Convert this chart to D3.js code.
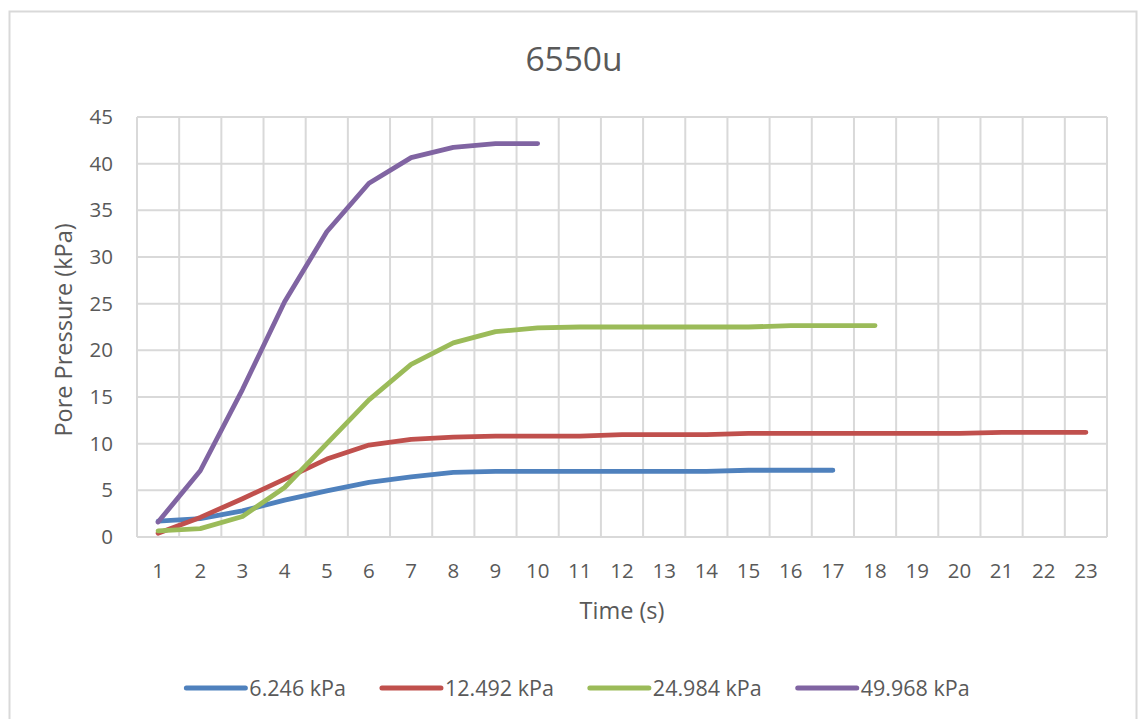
<!DOCTYPE html>
<html>
<head>
<meta charset="utf-8">
<script src="https://cdn.jsdelivr.net/npm/d3@7"></script>
<style>
  html, body { margin: 0; padding: 0; background: #fff; }
  svg { display: block; }
  text { font-family: "Open Sans", Lato, sans-serif; fill: #595959; }
</style>
</head>
<body>
<svg id="chart" width="1139" height="719"></svg>
<script>
// Time steps (s) shown on the category axis
const timeSteps = d3.range(1, 24);
const yTicks = [0, 5, 10, 15, 20, 25, 30, 35, 40, 45];

// Pore pressure (kPa) per loading level, one value per second
const p6246 = [1.7, 1.96, 2.8, 3.95, 4.95, 5.86, 6.45, 6.92, 7.03, 7.03, 7.03, 7.03, 7.03, 7.03, 7.15, 7.15, 7.15];
const p12492 = [0.4, 2.1, 4.1, 6.2, 8.35, 9.85, 10.45, 10.7, 10.8, 10.8, 10.8, 10.97, 10.97, 10.97, 11.1, 11.1, 11.1, 11.1, 11.1, 11.1, 11.22, 11.22, 11.22];
const p24984 = [0.65, 0.9, 2.2, 5.3, 10.0, 14.7, 18.5, 20.8, 22.0, 22.4, 22.5, 22.5, 22.5, 22.5, 22.5, 22.65, 22.65, 22.65];
const p49968 = [1.6, 7.1, 15.8, 25.2, 32.7, 37.9, 40.65, 41.75, 42.15, 42.15];

const seriesNames = ["6.246 kPa", "12.492 kPa", "24.984 kPa", "49.968 kPa"];
const seriesColors = ["#4F81BD", "#C0504D", "#9BBB59", "#8064A2"];
const seriesValues = [p6246, p12492, p24984, p49968];

const svg = d3.select("#chart");
const plot = { left: 137, right: 1107, top: 117, bottom: 537 };
const grid = "#d9d9d9";
const font = "\"Open Sans\", Lato, sans-serif";

// Outer chart frame
svg.append("rect")
  .attr("x", 9.5).attr("y", 11.5)
  .attr("width", 1127).attr("height", 730)
  .attr("fill", "#fff").attr("stroke", grid).attr("stroke-width", 2);

const x = d3.scaleBand().domain(timeSteps).range([plot.left, plot.right]).padding(0);
const y = d3.scaleLinear().domain([0, 45]).range([plot.bottom, plot.top]);

// Horizontal gridlines
svg.append("g").selectAll("line").data(yTicks).join("line")
  .attr("x1", plot.left).attr("x2", plot.right)
  .attr("y1", d => y(d)).attr("y2", d => y(d))
  .attr("stroke", grid).attr("stroke-width", 2);

// Vertical gridlines on category boundaries
const bounds = timeSteps.map(t => x(t)).concat([x(timeSteps[timeSteps.length - 1]) + x.bandwidth()]);
svg.append("g").selectAll("line").data(bounds).join("line")
  .attr("x1", d => d).attr("x2", d => d)
  .attr("y1", plot.top).attr("y2", plot.bottom)
  .attr("stroke", grid).attr("stroke-width", 2);

// Y axis labels
const yAxis = d3.axisLeft(y).tickValues(yTicks).tickSize(0).tickPadding(24);
const gy = svg.append("g").attr("transform", `translate(${plot.left},0)`).call(yAxis);
gy.select(".domain").remove();
gy.selectAll("text").attr("font-size", 20.5).attr("fill", "#595959")
  .style("font-family", font);

// X axis labels
const xAxis = d3.axisBottom(x).tickSize(0).tickPadding(26);
const gx = svg.append("g").attr("transform", `translate(0,${plot.bottom})`).call(xAxis);
gx.select(".domain").remove();
gx.selectAll("text").attr("font-size", 20.5).attr("fill", "#595959")
  .style("font-family", font);

// Series lines
const line = d3.line()
  .x((d, i) => x(timeSteps[i]) + x.bandwidth() / 2)
  .y(d => y(d))
  .curve(d3.curveLinear);

svg.append("g").selectAll("path").data(seriesValues).join("path")
  .attr("d", d => line(d))
  .attr("fill", "none")
  .attr("stroke", (d, i) => seriesColors[i])
  .attr("stroke-width", 4.8)
  .attr("stroke-linecap", "round")
  .attr("stroke-linejoin", "round");

// Title
svg.append("text")
  .attr("x", 574).attr("y", 71)
  .attr("text-anchor", "middle")
  .attr("font-size", 33.5)
  .style("fill", "#595959")
  .text("6550u");

// Axis titles
svg.append("text")
  .attr("x", (plot.left + plot.right) / 2).attr("y", 619)
  .attr("text-anchor", "middle")
  .attr("font-size", 23.5)
  .text("Time (s)");

svg.append("text")
  .attr("transform", `translate(72,${(plot.top + plot.bottom) / 2 + 3}) rotate(-90)`)
  .attr("text-anchor", "middle")
  .attr("font-size", 23.5)
  .text("Pore Pressure (kPa)");

// Legend
const legend = svg.append("g");
const items = legend.selectAll("g").data(seriesNames).join("g");
items.append("line")
  .attr("x1", 0).attr("x2", 59).attr("y1", 0).attr("y2", 0)
  .attr("stroke", (d, i) => seriesColors[i])
  .attr("stroke-width", 5)
  .attr("stroke-linecap", "round");
items.append("text")
  .attr("x", 63).attr("y", 7.5)
  .attr("font-size", 21.5)
  .text(d => d);

let cursor = 0;
const gap = 36;
items.each(function () {
  const g = d3.select(this);
  const tw = g.select("text").node().getComputedTextLength();
  g.attr("transform", `translate(${cursor},0)`);
  cursor += 63 + tw + gap;
});
const total = cursor - gap;
legend.attr("transform", `translate(${578 - total / 2},688)`);
</script>
</body>
</html>
